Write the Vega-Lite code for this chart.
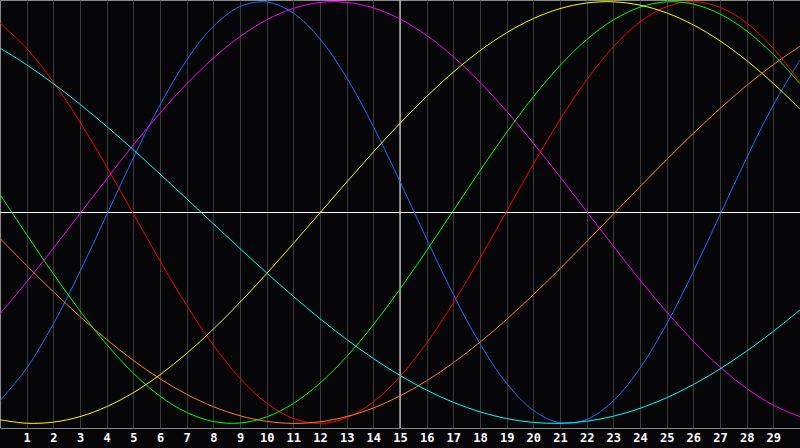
{
"$schema": "https://vega.github.io/schema/vega-lite/v6.json",
"width": 800, "height": 428,
"autosize": {"type": "none"},
"padding": {"left": 0, "top": 0, "right": 0, "bottom": 20},
"background": "#060608",
"config": {
  "view": {"stroke": "#8a8a8a", "strokeWidth": 1, "fill": "#060608"},
  "axisX": {"grid": true, "gridColor": "#3a3a3a", "gridWidth": 1, "domain": false, "ticks": false,
            "labelColor": "#ffffff", "labelFont": "DejaVu Sans Mono", "labelFontWeight": "bold",
            "labelFontSize": 12, "labelPadding": 4, "labelDx": -3, "labelFlush": false, "labelOverlap": false, "labelBound": false}
},
"datasets": {
"vr": [{"x": 15}],
"hr": [{"y": 0}],
"bio": [
{"d":0,"s":"23","v":-0.8929},{"d":1,"s":"23","v":-0.7383},{"d":2,"s":"23","v":-0.5289},{"d":3,"s":"23","v":-0.2803},{"d":4,"s":"23","v":-0.0109},{"d":5,"s":"23","v":0.2593},{"d":6,"s":"23","v":0.5102},{"d":7,"s":"23","v":0.7233},{"d":8,"s":"23","v":0.8828},{"d":9,"s":"23","v":0.9768},{"d":10,"s":"23","v":0.9984},{"d":11,"s":"23","v":0.9459},{"d":12,"s":"23","v":0.8232},{"d":13,"s":"23","v":0.6395},{"d":14,"s":"23","v":0.4084},{"d":15,"s":"23","v":0.1470},{"d":16,"s":"23","v":-0.1253},{"d":17,"s":"23","v":-0.3884},{"d":18,"s":"23","v":-0.6226},{"d":19,"s":"23","v":-0.8106},{"d":20,"s":"23","v":-0.9385},{"d":21,"s":"23","v":-0.9969},{"d":22,"s":"23","v":-0.9812},{"d":23,"s":"23","v":-0.8929},{"d":24,"s":"23","v":-0.7383},{"d":25,"s":"23","v":-0.5289},{"d":26,"s":"23","v":-0.2803},{"d":27,"s":"23","v":-0.0109},{"d":28,"s":"23","v":0.2593},{"d":29,"s":"23","v":0.5102},{"d":30,"s":"23","v":0.7233},
{"d":0,"s":"28","v":0.8990},{"d":1,"s":"28","v":0.7780},{"d":2,"s":"28","v":0.6190},{"d":3,"s":"28","v":0.4290},{"d":4,"s":"28","v":0.2170},{"d":5,"s":"28","v":-0.0060},{"d":6,"s":"28","v":-0.2290},{"d":7,"s":"28","v":-0.4400},{"d":8,"s":"28","v":-0.6290},{"d":9,"s":"28","v":-0.7860},{"d":10,"s":"28","v":-0.9040},{"d":11,"s":"28","v":-0.9765},{"d":12,"s":"28","v":-1.0000},{"d":13,"s":"28","v":-0.9735},{"d":14,"s":"28","v":-0.8980},{"d":15,"s":"28","v":-0.7780},{"d":16,"s":"28","v":-0.6190},{"d":17,"s":"28","v":-0.4290},{"d":18,"s":"28","v":-0.2170},{"d":19,"s":"28","v":0.0060},{"d":20,"s":"28","v":0.2290},{"d":21,"s":"28","v":0.4400},{"d":22,"s":"28","v":0.6290},{"d":23,"s":"28","v":0.7860},{"d":24,"s":"28","v":0.9040},{"d":25,"s":"28","v":0.9765},{"d":26,"s":"28","v":1.0000},{"d":27,"s":"28","v":0.9735},{"d":28,"s":"28","v":0.8990},{"d":29,"s":"28","v":0.7780},{"d":30,"s":"28","v":0.6190},
{"d":0,"s":"33","v":0.0856},{"d":1,"s":"33","v":-0.1045},{"d":2,"s":"33","v":-0.2909},{"d":3,"s":"33","v":-0.4667},{"d":4,"s":"33","v":-0.6256},{"d":5,"s":"33","v":-0.7620},{"d":6,"s":"33","v":-0.8708},{"d":7,"s":"33","v":-0.9481},{"d":8,"s":"33","v":-0.9911},{"d":9,"s":"33","v":-0.9984},{"d":10,"s":"33","v":-0.9695},{"d":11,"s":"33","v":-0.9056},{"d":12,"s":"33","v":-0.8090},{"d":13,"s":"33","v":-0.6832},{"d":14,"s":"33","v":-0.5326},{"d":15,"s":"33","v":-0.3628},{"d":16,"s":"33","v":-0.1799},{"d":17,"s":"33","v":0.0095},{"d":18,"s":"33","v":0.1986},{"d":19,"s":"33","v":0.3805},{"d":20,"s":"33","v":0.5486},{"d":21,"s":"33","v":0.6969},{"d":22,"s":"33","v":0.8201},{"d":23,"s":"33","v":0.9135},{"d":24,"s":"33","v":0.9740},{"d":25,"s":"33","v":0.9993},{"d":26,"s":"33","v":0.9884},{"d":27,"s":"33","v":0.9418},{"d":28,"s":"33","v":0.8612},{"d":29,"s":"33","v":0.7495},{"d":30,"s":"33","v":0.6106},
{"d":0,"s":"38","v":-0.4803},{"d":1,"s":"38","v":-0.3294},{"d":2,"s":"38","v":-0.1695},{"d":3,"s":"38","v":-0.0050},{"d":4,"s":"38","v":0.1597},{"d":5,"s":"38","v":0.3200},{"d":6,"s":"38","v":0.4716},{"d":7,"s":"38","v":0.6103},{"d":8,"s":"38","v":0.7324},{"d":9,"s":"38","v":0.8344},{"d":10,"s":"38","v":0.9138},{"d":11,"s":"38","v":0.9682},{"d":12,"s":"38","v":0.9962},{"d":13,"s":"38","v":0.9970},{"d":14,"s":"38","v":0.9706},{"d":15,"s":"38","v":0.9178},{"d":16,"s":"38","v":0.8399},{"d":17,"s":"38","v":0.7391},{"d":18,"s":"38","v":0.6181},{"d":19,"s":"38","v":0.4803},{"d":20,"s":"38","v":0.3294},{"d":21,"s":"38","v":0.1695},{"d":22,"s":"38","v":0.0050},{"d":23,"s":"38","v":-0.1597},{"d":24,"s":"38","v":-0.3200},{"d":25,"s":"38","v":-0.4716},{"d":26,"s":"38","v":-0.6103},{"d":27,"s":"38","v":-0.7324},{"d":28,"s":"38","v":-0.8344},{"d":29,"s":"38","v":-0.9138},{"d":30,"s":"38","v":-0.9682},
{"d":0,"s":"43","v":-0.9831},{"d":1,"s":"43","v":-0.9993},{"d":2,"s":"43","v":-0.9942},{"d":3,"s":"43","v":-0.9679},{"d":4,"s":"43","v":-0.9209},{"d":5,"s":"43","v":-0.8544},{"d":6,"s":"43","v":-0.7696},{"d":7,"s":"43","v":-0.6684},{"d":8,"s":"43","v":-0.5530},{"d":9,"s":"43","v":-0.4258},{"d":10,"s":"43","v":-0.2895},{"d":11,"s":"43","v":-0.1471},{"d":12,"s":"43","v":-0.0015},{"d":13,"s":"43","v":0.1442},{"d":14,"s":"43","v":0.2867},{"d":15,"s":"43","v":0.4231},{"d":16,"s":"43","v":0.5505},{"d":17,"s":"43","v":0.6662},{"d":18,"s":"43","v":0.7677},{"d":19,"s":"43","v":0.8528},{"d":20,"s":"43","v":0.9198},{"d":21,"s":"43","v":0.9671},{"d":22,"s":"43","v":0.9938},{"d":23,"s":"43","v":0.9994},{"d":24,"s":"43","v":0.9836},{"d":25,"s":"43","v":0.9469},{"d":26,"s":"43","v":0.8900},{"d":27,"s":"43","v":0.8141},{"d":28,"s":"43","v":0.7209},{"d":29,"s":"43","v":0.6123},{"d":30,"s":"43","v":0.4907},
{"d":0,"s":"48","v":-0.1227},{"d":1,"s":"48","v":-0.2512},{"d":2,"s":"48","v":-0.3754},{"d":3,"s":"48","v":-0.4932},{"d":4,"s":"48","v":-0.6025},{"d":5,"s":"48","v":-0.7015},{"d":6,"s":"48","v":-0.7885},{"d":7,"s":"48","v":-0.8621},{"d":8,"s":"48","v":-0.9208},{"d":9,"s":"48","v":-0.9639},{"d":10,"s":"48","v":-0.9904},{"d":11,"s":"48","v":-1.0000},{"d":12,"s":"48","v":-0.9924},{"d":13,"s":"48","v":-0.9679},{"d":14,"s":"48","v":-0.9269},{"d":15,"s":"48","v":-0.8699},{"d":16,"s":"48","v":-0.7981},{"d":17,"s":"48","v":-0.7126},{"d":18,"s":"48","v":-0.6150},{"d":19,"s":"48","v":-0.5068},{"d":20,"s":"48","v":-0.3899},{"d":21,"s":"48","v":-0.2664},{"d":22,"s":"48","v":-0.1383},{"d":23,"s":"48","v":-0.0078},{"d":24,"s":"48","v":0.1227},{"d":25,"s":"48","v":0.2512},{"d":26,"s":"48","v":0.3754},{"d":27,"s":"48","v":0.4932},{"d":28,"s":"48","v":0.6025},{"d":29,"s":"48","v":0.7015},{"d":30,"s":"48","v":0.7885},
{"d":0,"s":"53","v":0.7803},{"d":1,"s":"53","v":0.7008},{"d":2,"s":"53","v":0.6115},{"d":3,"s":"53","v":0.5136},{"d":4,"s":"53","v":0.4085},{"d":5,"s":"53","v":0.2977},{"d":6,"s":"53","v":0.1827},{"d":7,"s":"53","v":0.0652},{"d":8,"s":"53","v":-0.0533},{"d":9,"s":"53","v":-0.1711},{"d":10,"s":"53","v":-0.2864},{"d":11,"s":"53","v":-0.3977},{"d":12,"s":"53","v":-0.5034},{"d":13,"s":"53","v":-0.6021},{"d":14,"s":"53","v":-0.6923},{"d":15,"s":"53","v":-0.7728},{"d":16,"s":"53","v":-0.8424},{"d":17,"s":"53","v":-0.9002},{"d":18,"s":"53","v":-0.9454},{"d":19,"s":"53","v":-0.9773},{"d":20,"s":"53","v":-0.9955},{"d":21,"s":"53","v":-0.9997},{"d":22,"s":"53","v":-0.9899},{"d":23,"s":"53","v":-0.9662},{"d":24,"s":"53","v":-0.9289},{"d":25,"s":"53","v":-0.8786},{"d":26,"s":"53","v":-0.8159},{"d":27,"s":"53","v":-0.7418},{"d":28,"s":"53","v":-0.6573},{"d":29,"s":"53","v":-0.5636},{"d":30,"s":"53","v":-0.4619}
]
},
"layer": [
{"data": {"name": "vr"}, "mark": {"type": "rule", "color": "#ffffff", "strokeWidth": 1},
 "encoding": {"x": {"field": "x", "type": "quantitative", "title": null,
   "axis": {"values": [1,2,3,4,5,6,7,8,9,10,11,12,13,14,15,16,17,18,19,20,21,22,23,24,25,26,27,28,29], "labelOverlap": false}}}},
{"data": {"name": "hr"}, "mark": {"type": "rule", "color": "#ffffff", "strokeWidth": 1},
 "encoding": {"y": {"field": "y", "type": "quantitative", "title": null, "axis": null}}},
{"data": {"name": "bio"},
 "mark": {"type": "line", "strokeWidth": 1, "interpolate": "catmull-rom", "clip": true},
 "encoding": {
  "x": {"field": "d", "type": "quantitative", "title": null,
        "scale": {"domain": [0, 30], "nice": false, "zero": false},
        "axis": {"values": [1,2,3,4,5,6,7,8,9,10,11,12,13,14,15,16,17,18,19,20,21,22,23,24,25,26,27,28,29], "labelOverlap": false}},
  "y": {"field": "v", "type": "quantitative", "title": null,
        "scale": {"domain": [-1.022, 1.008], "nice": false, "zero": false}, "axis": null},
  "color": {"field": "s", "type": "nominal",
            "scale": {"domain": ["23","28","33","38","43","48","53"],
                      "range": ["#1a6cff","#ff0000","#00ff00","#ff00ff","#ffff00","#ff8020","#00ffff"]},
            "legend": null}
 }}
]
}
